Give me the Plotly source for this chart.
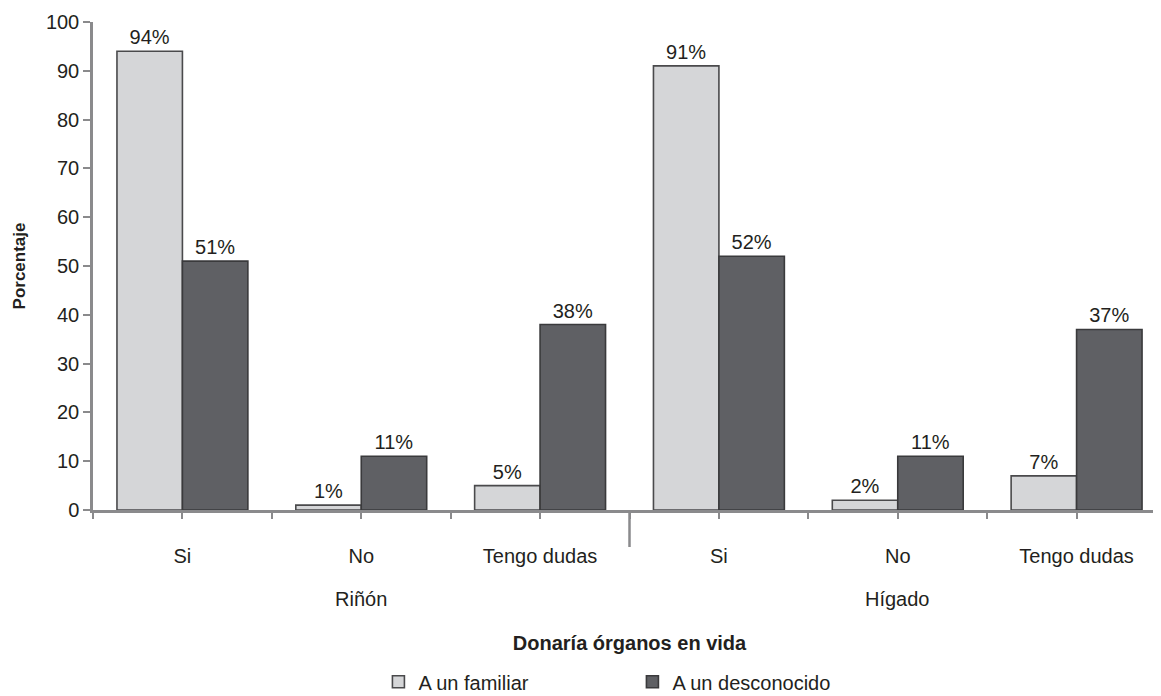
import plotly.graph_objects as go

organs = ["Riñón", "Hígado"]
responses = ["Si", "No", "Tengo dudas"]
series_names = ["A un familiar", "A un desconocido"]
familiar = [94, 1, 5, 91, 2, 7]
desconocido = [51, 11, 38, 52, 11, 37]
y_ticks = [0, 10, 20, 30, 40, 50, 60, 70, 80, 90, 100]

cats = [r for _ in organs for r in responses]
xpos = list(range(len(cats)))

FONT = "Liberation Sans, Arial, sans-serif"
AX = "#8a8a8c"
TXT = "#231f20"
FS = 20

fig = go.Figure()
fig.add_trace(go.Bar(
    x=xpos, y=familiar, name=series_names[0],
    marker=dict(color="#d5d6d8", line=dict(color="#4a4a4c", width=1.6)),
    texttemplate="%{y}%", textposition="outside",
    textfont=dict(size=FS, color=TXT, family=FONT), cliponaxis=False,
))
fig.add_trace(go.Bar(
    x=xpos, y=desconocido, name=series_names[1],
    marker=dict(color="#5f6064", line=dict(color="#3a3a3c", width=1.6)),
    texttemplate="%{y}%", textposition="outside",
    textfont=dict(size=FS, color=TXT, family=FONT), cliponaxis=False,
))

n_per = len(responses)
for i, organ in enumerate(organs):
    fig.add_annotation(x=i * n_per + (n_per - 1) / 2, xref="x", y=0, yref="paper",
                       yanchor="middle", yshift=-89, text=organ, showarrow=False,
                       font=dict(size=FS, color=TXT, family=FONT))
for i in range(1, len(organs)):
    fig.add_shape(type="line", x0=i * n_per - 0.5, x1=i * n_per - 0.5, xref="x",
                  y0=0, y1=-37, yref="paper", ysizemode="pixel", yanchor=0,
                  line=dict(color=AX, width=2.5))

fig.update_layout(
    width=1161, height=696,
    margin=dict(l=84.5, r=2.5, t=14, b=186),
    paper_bgcolor="white", plot_bgcolor="white",
    font=dict(family=FONT, size=FS, color=TXT),
    barmode="group", bargap=0.268, bargroupgap=0,
    showlegend=True,
    legend=dict(orientation="h", x=0.266, xanchor="left", y=-0.352, yanchor="middle",
                font=dict(size=FS, color=TXT), entrywidth=209, itemwidth=30,
                traceorder="normal"),
    xaxis=dict(
        range=[-0.5, 5.5], tickvals=xpos, ticktext=cats,
        showline=True, linecolor=AX, linewidth=2.5, showgrid=False, zeroline=False,
        ticks="outside", ticklen=6, tickwidth=2, tickcolor=AX,
        ticklabelstandoff=20,
        minor=dict(dtick=0.5, tick0=-0.5, ticks="outside", ticklen=6, tickwidth=2, tickcolor=AX),
        tickfont=dict(size=FS, color=TXT),
        title=dict(text="<b>Donaría órganos en vida</b>", standoff=71,
                   font=dict(size=20, color=TXT)),
    ),
    yaxis=dict(
        range=[0, 100], tickvals=y_ticks, showline=True, linecolor=AX, linewidth=2.5,
        showgrid=False, zeroline=False, ticks="outside", ticklen=7, tickwidth=2,
        tickcolor=AX, tickfont=dict(size=FS, color=TXT),
        title=dict(text="<b>Porcentaje</b>", standoff=16, font=dict(size=17, color=TXT)),
    ),
)
fig.write_html("out.html")
